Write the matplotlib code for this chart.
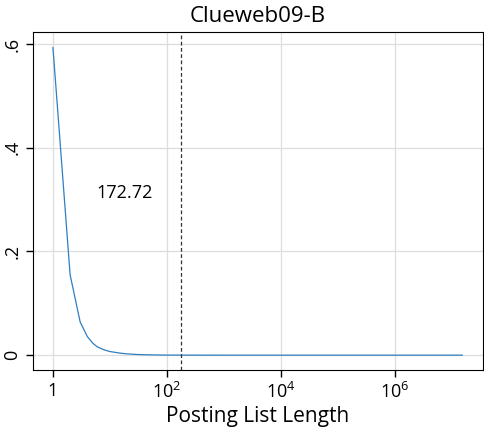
import numpy as np
import matplotlib.pyplot as plt

plt.rcParams['font.family'] = ['Open Sans', 'DejaVu Sans']

# posting list length vs fraction of lists
lengths = [1, 2, 3, 4, 5, 6, 8, 10, 15, 20, 30, 50, 100, 1e3, 1e4, 1e5, 1e6, 1.5e7]
fraction = [0.593, 0.155, 0.064, 0.036, 0.023, 0.016, 0.010, 0.007, 0.004, 0.0025,
            0.0013, 0.0006, 0.0002, 0.0, 0.0, 0.0, 0.0, 0.0]
threshold = 172.72
title = 'Clueweb09-B'

fig, ax = plt.subplots(figsize=[4.85, 4.28], dpi=100)
fig.subplots_adjust(left=0.068, right=0.996, top=0.925, bottom=0.135)

ax.plot(lengths, fraction, color='#2f7fc1', lw=0.9)
ax.axvline(threshold, color='#333333', ls='--', lw=0.9, dashes=(3, 2))
ax.text(18, 0.313, '%.2f' % threshold, fontsize=13, ha='center', va='center')

ax.set_xscale('log')
ax.set_xlim(10**-0.35, 10**7.54)
ax.set_ylim(-0.029, 0.623)
ax.set_xticks([1, 1e2, 1e4, 1e6])
ax.set_xticklabels(['1', '$\\mathregular{10^2}$', '$\\mathregular{10^4}$', '$\\mathregular{10^6}$'])
ax.minorticks_off()
ax.set_yticks([0, 0.2, 0.4, 0.6])
ax.set_yticklabels(['0', '.2', '.4', '.6'], rotation=90, va='center')
ax.tick_params(labelsize=13, length=5, width=1)
ax.grid(True, color='#dddddd', lw=0.9)
ax.set_axisbelow(True)

ax.set_title(title, fontsize=16, pad=7)
ax.set_xlabel('Posting List Length', fontsize=15, labelpad=3)

plt.savefig('out.png')
